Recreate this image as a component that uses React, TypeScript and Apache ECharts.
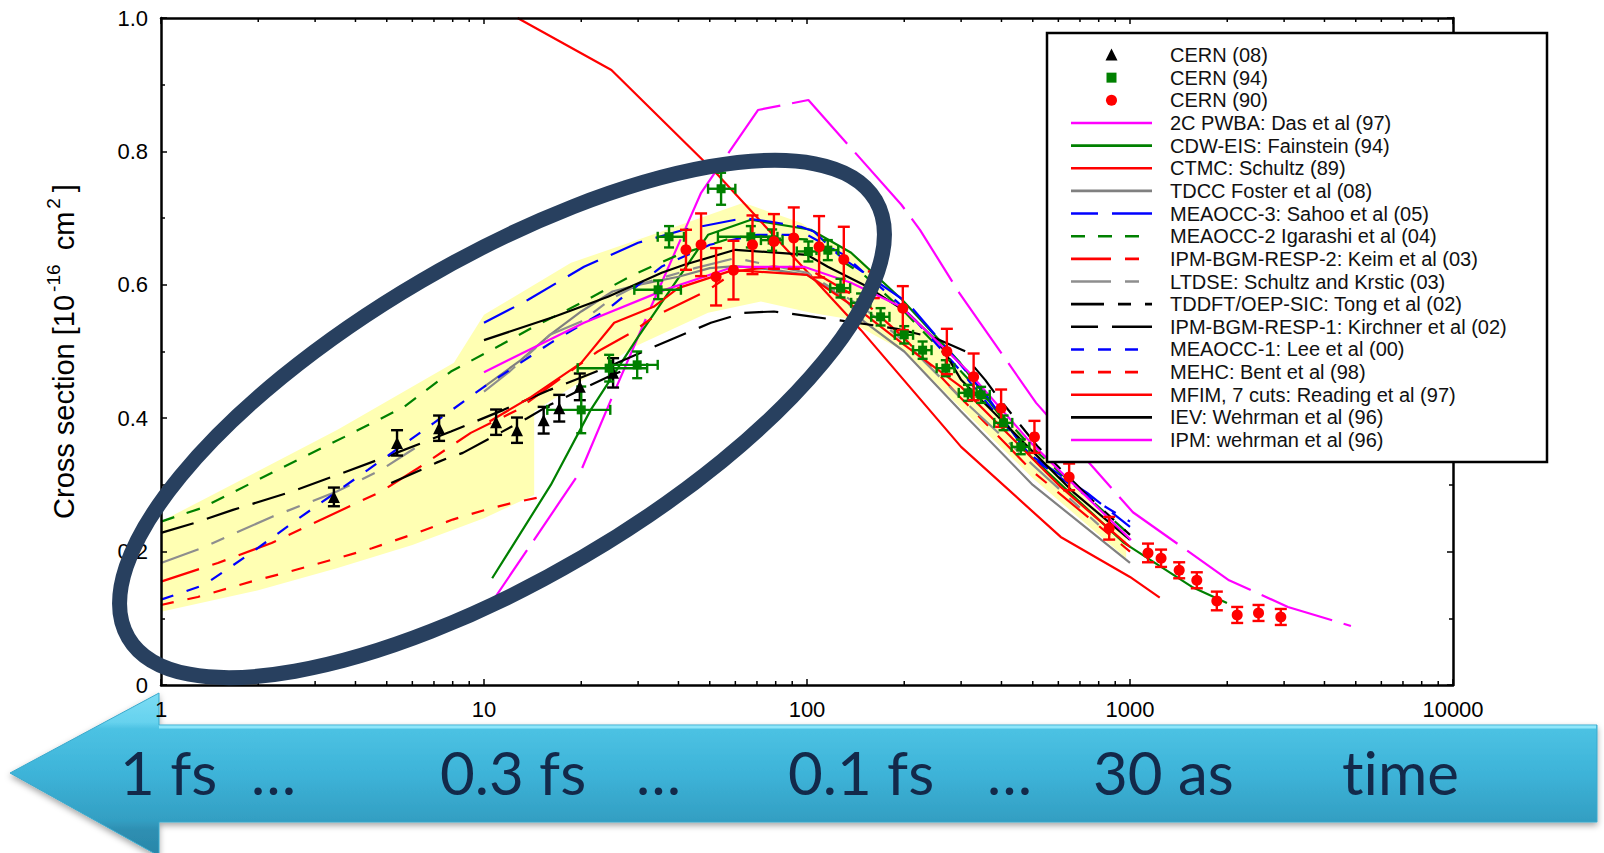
import React, { useEffect, useRef } from 'react';
import * as echarts from 'echarts';

// ---------------- Experimental data ----------------
const cern08X = [3.43, 5.38, 7.26, 10.9, 12.65, 15.3, 17.1, 19.8, 25.1];
const cern08Y = [0.282, 0.363, 0.385, 0.394, 0.382, 0.397, 0.415, 0.447, 0.468];
const cern08Err = [0.014, 0.019, 0.019, 0.019, 0.019, 0.02, 0.02, 0.02, 0.022];

const cern94X = [20, 24.4, 29.8, 34.6, 37.4, 54.2, 67, 78, 101, 116, 127, 147, 169, 200, 228, 269, 315, 346, 406, 459];
const cern94Y = [0.4125, 0.475, 0.48, 0.5925, 0.672, 0.744, 0.672, 0.667, 0.65, 0.652, 0.595, 0.573, 0.552, 0.525, 0.502, 0.475, 0.438, 0.435, 0.393, 0.357];
const cern94Err = [0.035, 0.02, 0.02, 0.014, 0.016, 0.024, 0.016, 0.016, 0.015, 0.015, 0.014, 0.014, 0.013, 0.013, 0.013, 0.012, 0.012, 0.012, 0.011, 0.011];
const cern94XLo = [15.7, 19.5, 24.7, 29.2, 34.5, 49.4, 53, 72, 93, 107, 118, 137, 158, 187, 213, 252, 295, 324, 380, 430];
const cern94XHi = [24.6, 32, 34.5, 40.7, 41.6, 60, 81, 84, 109, 125, 136, 157, 180, 213, 243, 286, 335, 368, 432, 488];

const cern90X = [42.2, 47, 52.3, 59.2, 67.8, 79, 91, 109, 130, 161, 198, 271, 328, 399, 506, 648, 862, 1137, 1248, 1420, 1610, 1857, 2147, 2500, 2930];
const cern90Y = [0.6525, 0.66, 0.612, 0.622, 0.66, 0.665, 0.67, 0.657, 0.638, 0.6, 0.565, 0.5, 0.462, 0.415, 0.372, 0.312, 0.235, 0.198, 0.19, 0.172, 0.157, 0.126, 0.105, 0.108, 0.102];
const cern90Err = [0.03, 0.047, 0.043, 0.044, 0.044, 0.041, 0.046, 0.046, 0.049, 0.02, 0.033, 0.034, 0.035, 0.028, 0.024, 0.02, 0.017, 0.014, 0.013, 0.012, 0.012, 0.014, 0.012, 0.012, 0.012];

// ---------------- Theory curves ----------------
const pwbaX = [10.07, 17.3, 20, 25.1, 32.9, 47, 70.5, 101, 196, 224, 296, 512, 1021, 2026, 3084, 4831];
const pwbaY = [0.109, 0.277, 0.322, 0.435, 0.567, 0.738, 0.862, 0.877, 0.72, 0.682, 0.588, 0.423, 0.259, 0.157, 0.117, 0.0885];

const cdwX = [10.6, 16.1, 21.4, 30, 49.4, 67.1, 102.8, 137, 197, 298, 494, 958, 1556, 1996];
const cdwY = [0.16, 0.3, 0.4125, 0.522, 0.675, 0.6975, 0.6825, 0.648, 0.5775, 0.483, 0.342, 0.213, 0.147, 0.123];

const ctmcX = [12.7, 24.8, 52.9, 147, 300, 610, 1000, 1236];
const ctmcY = [1.0, 0.922, 0.765, 0.532, 0.357, 0.222, 0.162, 0.131];

const tdccX = [10, 13, 16, 20, 25, 30, 40, 50, 60, 80, 100, 130, 150, 200, 300, 500, 1000];
const tdccY = [0.447, 0.487, 0.525, 0.56, 0.59, 0.6, 0.612, 0.625, 0.628, 0.622, 0.615, 0.58, 0.545, 0.5, 0.41, 0.3, 0.183];

const sahooX = [10, 13.7, 20.4, 30, 41.6, 63.8, 77.3, 95.8, 105, 127, 205, 285, 362, 481, 737, 1000];
const sahooY = [0.543, 0.5775, 0.627, 0.663, 0.6825, 0.7, 0.6945, 0.687, 0.68, 0.642, 0.573, 0.492, 0.432, 0.348, 0.288, 0.237];

const igarashiX = [1, 1.33, 2.4, 3.7, 5.66, 7.9, 11.3, 14, 20, 29, 40, 60, 100, 150, 200, 300, 500, 1000];
const igarashiY = [0.245, 0.265, 0.327, 0.372, 0.417, 0.47, 0.51, 0.535, 0.573, 0.615, 0.645, 0.672, 0.668, 0.615, 0.56, 0.47, 0.355, 0.225];

const keimX = [1, 1.5, 2.2, 3.2, 4.8, 6.24, 9.1, 12.7, 22.5, 29, 33.5, 49.4, 60, 80, 100, 150, 200, 300, 500, 1000];
const keimY = [0.155, 0.183, 0.213, 0.25, 0.29, 0.325, 0.378, 0.4125, 0.5, 0.53, 0.552, 0.592, 0.62, 0.628, 0.625, 0.575, 0.52, 0.43, 0.32, 0.2];

const ltdseLowX = [1, 1.33, 2.2, 2.85, 3.5, 4.8, 6.1];
const ltdseLowY = [0.183, 0.205, 0.252, 0.273, 0.29, 0.3225, 0.355];
const ltdseHighX = [10, 12, 16, 20, 25, 30, 45, 60, 100, 150, 200, 300, 500, 800];
const ltdseHighY = [0.44, 0.47, 0.525, 0.545, 0.58, 0.6, 0.625, 0.64, 0.618, 0.565, 0.515, 0.43, 0.33, 0.24];

const tongLowX = [5.16, 6.37, 7.1, 7.7, 8.6, 13.6, 16, 20, 25, 30];
const tongLowY = [0.303, 0.3225, 0.333, 0.34, 0.348, 0.4, 0.42, 0.443, 0.465, 0.48];
const tongHighX = [329, 356, 385, 519, 754, 1000];
const tongHighY = [0.477, 0.4575, 0.435, 0.357, 0.28, 0.225];

const kirchnerX = [1, 1.27, 1.67, 2.47, 3.66, 5.16, 7.9, 11.5, 16, 24.2, 37.5, 50.4, 63.6, 79, 105, 143, 190, 250, 310];
const kirchnerY = [0.228, 0.243, 0.2625, 0.288, 0.318, 0.345, 0.38, 0.4125, 0.4425, 0.477, 0.517, 0.543, 0.558, 0.56, 0.552, 0.543, 0.534, 0.52, 0.5];

const leeX = [1, 1.36, 1.9, 2.71, 4.37, 7, 10, 16.1, 24, 35.4, 50, 70, 100, 130, 200, 300, 500, 700, 1000];
const leeY = [0.128, 0.15, 0.198, 0.252, 0.3225, 0.393, 0.447, 0.513, 0.5625, 0.627, 0.66, 0.675, 0.675, 0.645, 0.565, 0.47, 0.34, 0.29, 0.245];

const bentX = [1, 1.3, 1.9, 2.5, 3.4, 4.5, 6.2, 8, 10, 12, 15];
const bentY = [0.12, 0.132, 0.155, 0.17, 0.188, 0.205, 0.228, 0.248, 0.262, 0.272, 0.282];

const mfimX = [10.4, 14, 20, 25.3, 33.5, 39.9, 59, 100, 147, 200, 300, 610, 1000];
const mfimY = [0.395, 0.432, 0.483, 0.543, 0.567, 0.595, 0.622, 0.615, 0.56, 0.51, 0.447, 0.297, 0.207];

const ievX = [10, 16.5, 24.2, 35.5, 41.7, 60, 100, 116, 154, 205, 259, 300, 460, 672, 1000];
const ievY = [0.517, 0.552, 0.582, 0.618, 0.63, 0.6525, 0.645, 0.627, 0.597, 0.558, 0.51, 0.4575, 0.3675, 0.288, 0.2175];

const ipmX = [10, 20.4, 36.1, 59.4, 97.9, 136.8, 195.5, 312.9, 493.6, 1007];
const ipmY = [0.469, 0.543, 0.592, 0.627, 0.627, 0.603, 0.567, 0.472, 0.363, 0.2175];

// Yellow uncertainty band (upper edge left->right, lower edge right->left)
const bandUpperX = [1, 3.53, 8.07, 10, 18.6, 34.6, 63.6, 95.8, 147, 200, 300, 500, 973];
const bandUpperY = [0.245, 0.383, 0.483, 0.555, 0.633, 0.678, 0.723, 0.693, 0.6375, 0.565, 0.47, 0.36, 0.22];
const bandLowerX = [973, 500, 300, 200, 130, 103, 72, 49.4, 29.2, 14.3, 14.3, 10, 6, 3.5, 2, 1];
const bandLowerY = [0.19, 0.31, 0.415, 0.5, 0.55, 0.558, 0.575, 0.558, 0.507, 0.41, 0.285, 0.25, 0.21, 0.175, 0.142, 0.11];

// Axis ticks
const xMinorTicks = [2, 3, 4, 5, 6, 7, 8, 9, 20, 30, 40, 50, 60, 70, 80, 90, 200, 300, 400, 500, 600, 700, 800, 900, 2000, 3000, 4000, 5000, 6000, 7000, 8000, 9000];
const yAxisName = 'Cross section [10{s|-16} cm{s|2}]';

// Arrow labels
const arrowLabels = ['1 fs', '…', '0.3 fs', '…', '0.1 fs', '…', '30 as', 'time'];
const arrowLabelLeft = [120, 251, 440, 636, 788, 987, 1093, 1342];

// ---------------- Styles ----------------
const FONT = "'Liberation Sans', Arial, Helvetica, sans-serif";
const MAGENTA = '#ff00ff';
const GREEN = '#008000';
const RED = '#ff0000';
const GRAY = '#808080';
const GRAY2 = '#8e8e8e';
const BLUE = '#0000ff';
const BLACK = '#000000';

type Curve = { name: string; parts: [number[], number[]][]; color: string; dash: number[] | null; legendDash?: number[] | null };

const curves: Curve[] = [
  { name: '2C PWBA: Das et al (97)', parts: [[pwbaX, pwbaY]], color: MAGENTA, dash: [75, 12], legendDash: null },
  { name: 'CDW-EIS: Fainstein (94)', parts: [[cdwX, cdwY]], color: GREEN, dash: null },
  { name: 'CTMC: Schultz (89)', parts: [[ctmcX, ctmcY]], color: RED, dash: null },
  { name: 'TDCC Foster et al (08)', parts: [[tdccX, tdccY]], color: GRAY, dash: null },
  { name: 'MEAOCC-3: Sahoo et al (05)', parts: [[sahooX, sahooY]], color: BLUE, dash: [34, 14], legendDash: [27, 14, 40, 14] },
  { name: 'MEAOCC-2 Igarashi et al (04)', parts: [[igarashiX, igarashiY]], color: GREEN, dash: [14, 13] },
  { name: 'IPM-BGM-RESP-2: Keim et al (03)', parts: [[keimX, keimY]], color: RED, dash: [40, 14, 14, 14] },
  { name: 'LTDSE: Schultz and Krstic (03)', parts: [[ltdseLowX, ltdseLowY], [ltdseHighX, ltdseHighY]], color: GRAY2, dash: [40, 14, 14, 14] },
  { name: 'TDDFT/OEP-SIC: Tong et al (02)', parts: [[tongLowX, tongLowY], [tongHighX, tongHighY]], color: BLACK, dash: [33, 14, 13, 14] },
  { name: 'IPM-BGM-RESP-1: Kirchner et al (02)', parts: [[kirchnerX, kirchnerY]], color: BLACK, dash: [34, 14], legendDash: [27, 14, 40, 14] },
  { name: 'MEAOCC-1: Lee et al (00)', parts: [[leeX, leeY]], color: BLUE, dash: [13, 14] },
  { name: 'MEHC: Bent et al (98)', parts: [[bentX, bentY]], color: RED, dash: [13, 14] },
  { name: 'MFIM, 7 cuts: Reading et al (97)', parts: [[mfimX, mfimY]], color: RED, dash: null },
  { name: 'IEV: Wehrman et al (96)', parts: [[ievX, ievY]], color: BLACK, dash: null },
  { name: 'IPM: wehrman et al (96)', parts: [[ipmX, ipmY]], color: MAGENTA, dash: null },
];

type Pts = { name: string; symbol: 'triangle' | 'square' | 'circle'; color: string; size: number };
const pointSets: Pts[] = [
  { name: 'CERN (08)', symbol: 'triangle', color: BLACK, size: 12 },
  { name: 'CERN (94)', symbol: 'square', color: GREEN, size: 9 },
  { name: 'CERN (90)', symbol: 'circle', color: RED, size: 11 },
];

function errorBarRender(color: string, capHalf: number, withX: boolean) {
  return (_params: any, api: any) => {
    const x = api.value(0);
    const y = api.value(1);
    const e = api.value(2);
    const top = api.coord([x, y + e]);
    const bot = api.coord([x, y - e]);
    const style = { stroke: color, lineWidth: 2.4 };
    const children: any[] = [
      { type: 'line', shape: { x1: top[0], y1: top[1], x2: bot[0], y2: bot[1] }, style },
      { type: 'line', shape: { x1: top[0] - capHalf, y1: top[1], x2: top[0] + capHalf, y2: top[1] }, style },
      { type: 'line', shape: { x1: bot[0] - capHalf, y1: bot[1], x2: bot[0] + capHalf, y2: bot[1] }, style },
    ];
    if (withX) {
      const l = api.coord([api.value(3), y]);
      const r = api.coord([api.value(4), y]);
      children.push(
        { type: 'line', shape: { x1: l[0], y1: l[1], x2: r[0], y2: r[1] }, style },
        { type: 'line', shape: { x1: l[0], y1: l[1] - capHalf, x2: l[0], y2: l[1] + capHalf }, style },
        { type: 'line', shape: { x1: r[0], y1: r[1] - capHalf, x2: r[0], y2: r[1] + capHalf }, style },
      );
    }
    return { type: 'group', children };
  };
}

function buildOption(): any {
  const series: any[] = [];

  // yellow band
  series.push({
    type: 'custom',
    name: 'band',
    silent: true,
    clip: true,
    z: 1,
    data: [[1, 0]],
    renderItem: (_p: any, api: any) => {
      const pts: number[][] = [];
      bandUpperX.forEach((x, i) => pts.push(api.coord([x, bandUpperY[i]])));
      bandLowerX.forEach((x, i) => pts.push(api.coord([x, bandLowerY[i]])));
      return { type: 'polygon', shape: { points: pts }, style: { fill: '#ffffb3', stroke: null } };
    },
  });

  // theory curves
  curves.forEach((c) => {
    c.parts.forEach(([xs, ys]) => {
      series.push({
        type: 'line',
        name: c.name,
        silent: true,
        symbol: 'none',
        clip: true,
        z: 3,
        data: xs.map((x, i) => [x, ys[i]]),
        lineStyle: { color: c.color, width: 2.2, type: c.dash ? c.dash : 'solid' },
        itemStyle: { color: c.color },
      });
    });
  });

  // error bars
  series.push({
    type: 'custom', name: 'CERN (08)', silent: true, clip: true, z: 4,
    data: cern08X.map((x, i) => [x, cern08Y[i], cern08Err[i]]),
    renderItem: errorBarRender(BLACK, 6, false),
  });
  series.push({
    type: 'custom', name: 'CERN (94)', silent: true, clip: true, z: 4,
    data: cern94X.map((x, i) => [x, cern94Y[i], cern94Err[i], cern94XLo[i], cern94XHi[i]]),
    renderItem: errorBarRender(GREEN, 5, true),
  });
  series.push({
    type: 'custom', name: 'CERN (90)', silent: true, clip: true, z: 4,
    data: cern90X.map((x, i) => [x, cern90Y[i], cern90Err[i]]),
    renderItem: errorBarRender(RED, 6, false),
  });

  // markers
  const ptData = [
    cern08X.map((x, i) => [x, cern08Y[i]]),
    cern94X.map((x, i) => [x, cern94Y[i]]),
    cern90X.map((x, i) => [x, cern90Y[i]]),
  ];
  pointSets.forEach((p, k) => {
    series.push({
      type: 'scatter', name: p.name, silent: true, z: 5,
      symbol: p.symbol === 'square' ? 'rect' : p.symbol,
      symbolSize: p.size,
      itemStyle: { color: p.color, opacity: 1 },
      data: ptData[k],
    });
  });

  // minor log ticks (bottom and top)
  series.push({
    type: 'custom', name: 'minorTicks', silent: true, z: 6,
    data: xMinorTicks.map((v) => [v, 0]),
    renderItem: (_p: any, api: any) => {
      const v = api.value(0);
      const b = api.coord([v, 0]);
      const t = api.coord([v, 1]);
      const st = { stroke: '#000', lineWidth: 1.5 };
      return {
        type: 'group',
        children: [
          { type: 'line', shape: { x1: b[0], y1: b[1], x2: b[0], y2: b[1] - 4 }, style: st },
          { type: 'line', shape: { x1: t[0], y1: t[1], x2: t[0], y2: t[1] + 4 }, style: st },
        ],
      };
    },
  });

  // ---------- graphics ----------
  const els: any[] = [];

  // Arrow
  const arrowPts = [
    [10, 773], [159, 693], [159, 725], [1597, 725], [1597, 822], [159, 822], [159, 856],
  ];
  els.push({
    type: 'polygon', silent: true, z: 1,
    shape: { points: arrowPts },
    style: {
      fill: {
        type: 'linear', x: 0, y: 0, x2: 0, y2: 1,
        colorStops: [
          { offset: 0, color: '#7bdcf4' },
          { offset: 0.18, color: '#66d2ee' },
          { offset: 0.22, color: '#4cc2e3' },
          { offset: 0.5, color: '#3db3d8' },
          { offset: 0.78, color: '#339fc3' },
          { offset: 0.84, color: '#2e8fb2' },
          { offset: 1, color: '#2a86a8' },
        ],
      },
      stroke: '#3aa9cc',
      lineWidth: 1,
      shadowBlur: 6,
      shadowOffsetY: 3,
      shadowColor: 'rgba(0,0,0,0.35)',
    },
  });
  els.push({
    type: 'line', silent: true, z: 2,
    shape: { x1: 159, y1: 727, x2: 1596, y2: 727 },
    style: { stroke: '#8fe6fa', lineWidth: 3 },
  });
  arrowLabels.forEach((t, i) => {
    els.push({
      type: 'text', silent: true, z: 3,
      x: arrowLabelLeft[i], y: 772,
      style: {
        text: t, fill: '#13294a', fontSize: 60, fontFamily: "Lato, 'Open Sans', sans-serif",
        align: 'left', verticalAlign: 'middle', textAlign: 'left', textVerticalAlign: 'middle',
      },
    });
  });

  // Legend box
  els.push({
    type: 'rect', silent: true, z: 50,
    shape: { x: 1047, y: 33, width: 500, height: 429 },
    style: { fill: '#ffffff', stroke: '#000000', lineWidth: 2.5 },
  });
  const legendRows: { name: string; kind: string; color: string; dash: number[] | null }[] = [
    ...pointSets.map((p) => ({ name: p.name, kind: p.symbol, color: p.color, dash: null })),
    ...curves.map((c) => ({ name: c.name, kind: 'line', color: c.color, dash: c.legendDash !== undefined ? c.legendDash : c.dash })),
  ];
  const LX0 = 1071, LX1 = 1152, LTX = 1170, LY0 = 55, LDY = 22.65, LC = 1111.5;
  legendRows.forEach((r, i) => {
    const y = LY0 + i * LDY;
    if (r.kind === 'line') {
      els.push({
        type: 'line', silent: true, z: 51,
        shape: { x1: LX0, y1: y, x2: LX1, y2: y },
        style: { stroke: r.color, lineWidth: 2.6, lineDash: r.dash },
      });
    } else if (r.kind === 'triangle') {
      els.push({
        type: 'polygon', silent: true, z: 51,
        shape: { points: [[LC, y - 6.5], [LC + 6, y + 5.5], [LC - 6, y + 5.5]] },
        style: { fill: r.color },
      });
    } else if (r.kind === 'square') {
      els.push({
        type: 'rect', silent: true, z: 51,
        shape: { x: LC - 5, y: y - 5, width: 10, height: 10 },
        style: { fill: r.color },
      });
    } else {
      els.push({
        type: 'circle', silent: true, z: 51,
        shape: { cx: LC, cy: y, r: 5.5 },
        style: { fill: r.color },
      });
    }
    els.push({
      type: 'text', silent: true, z: 51,
      x: LTX, y: y,
      style: {
        text: r.name, fill: '#111', fontSize: 20, fontFamily: FONT,
        align: 'left', verticalAlign: 'middle', textAlign: 'left', textVerticalAlign: 'middle',
      },
    });
  });

  // Highlight ellipse
  els.push({
    type: 'ellipse', silent: true, z: 100,
    x: 502, y: 419, rotation: (30.3 * Math.PI) / 180,
    shape: { cx: 0, cy: 0, rx: 433, ry: 160 },
    style: { fill: 'none', stroke: '#28405f', lineWidth: 15 },
  });

  const axisLine = { show: true, onZero: false, lineStyle: { color: '#000', width: 2.5 } };
  const tick = { show: true, inside: true, length: 6, lineStyle: { color: '#000', width: 1.5 } };

  return {
    animation: false,
    backgroundColor: '#ffffff',
    grid: { left: 161, right: 151, top: 18, bottom: 168, containLabel: false, outerBoundsMode: 'none', show: false },
    xAxis: [
      {
        type: 'log', logBase: 10, min: 1, max: 10000, position: 'bottom', z: 10,
        axisLine, axisTick: tick, minorTick: { show: false }, splitLine: { show: false },
        axisLabel: {
          color: '#000', fontSize: 22, fontFamily: FONT, margin: 13,
          formatter: (v: number) => String(Math.round(v)),
        },
      },
      {
        type: 'log', logBase: 10, min: 1, max: 10000, position: 'top', z: 10,
        axisLine, axisTick: tick, minorTick: { show: false }, splitLine: { show: false },
        axisLabel: { show: false },
      },
    ],
    yAxis: [
      {
        type: 'value', min: 0, max: 1, interval: 0.2, position: 'left', z: 10,
        axisLine, axisTick: tick,
        minorTick: { show: true, splitNumber: 2, length: 4, lineStyle: { color: '#000', width: 1.5 } },
        splitLine: { show: false }, minorSplitLine: { show: false },
        axisLabel: {
          color: '#000', fontSize: 22, fontFamily: FONT, margin: 13,
          formatter: (v: number) => (v === 0 ? '0' : v.toFixed(1)),
        },
        name: yAxisName,
        nameLocation: 'middle',
        nameGap: 78,
        nameRotate: 90,
        nameTextStyle: {
          color: '#000', fontSize: 29, fontFamily: FONT,
          rich: { s: { fontSize: 19, fontFamily: FONT, color: '#000', padding: [0, 6, 20, 3] } },
        },
      },
      {
        type: 'value', min: 0, max: 1, interval: 0.2, position: 'right', z: 10,
        axisLine, axisTick: tick,
        minorTick: { show: true, splitNumber: 2, length: 4, lineStyle: { color: '#000', width: 1.5 } },
        splitLine: { show: false },
        axisLabel: { show: false },
      },
    ],
    series,
    graphic: { elements: els },
  };
}

export default function App() {
  const ref = useRef<HTMLDivElement>(null);
  useEffect(() => {
    if (!ref.current) return;
    const chart = echarts.init(ref.current, null, { renderer: 'svg' });
    chart.setOption(buildOption());
    return () => chart.dispose();
  }, []);
  return (
    <div
      ref={ref}
      style={{
        position: 'fixed', left: 0, top: 0, width: 1604, height: 853, background: '#fff',
        fontVariantLigatures: 'none',
      }}
    />
  );
}
